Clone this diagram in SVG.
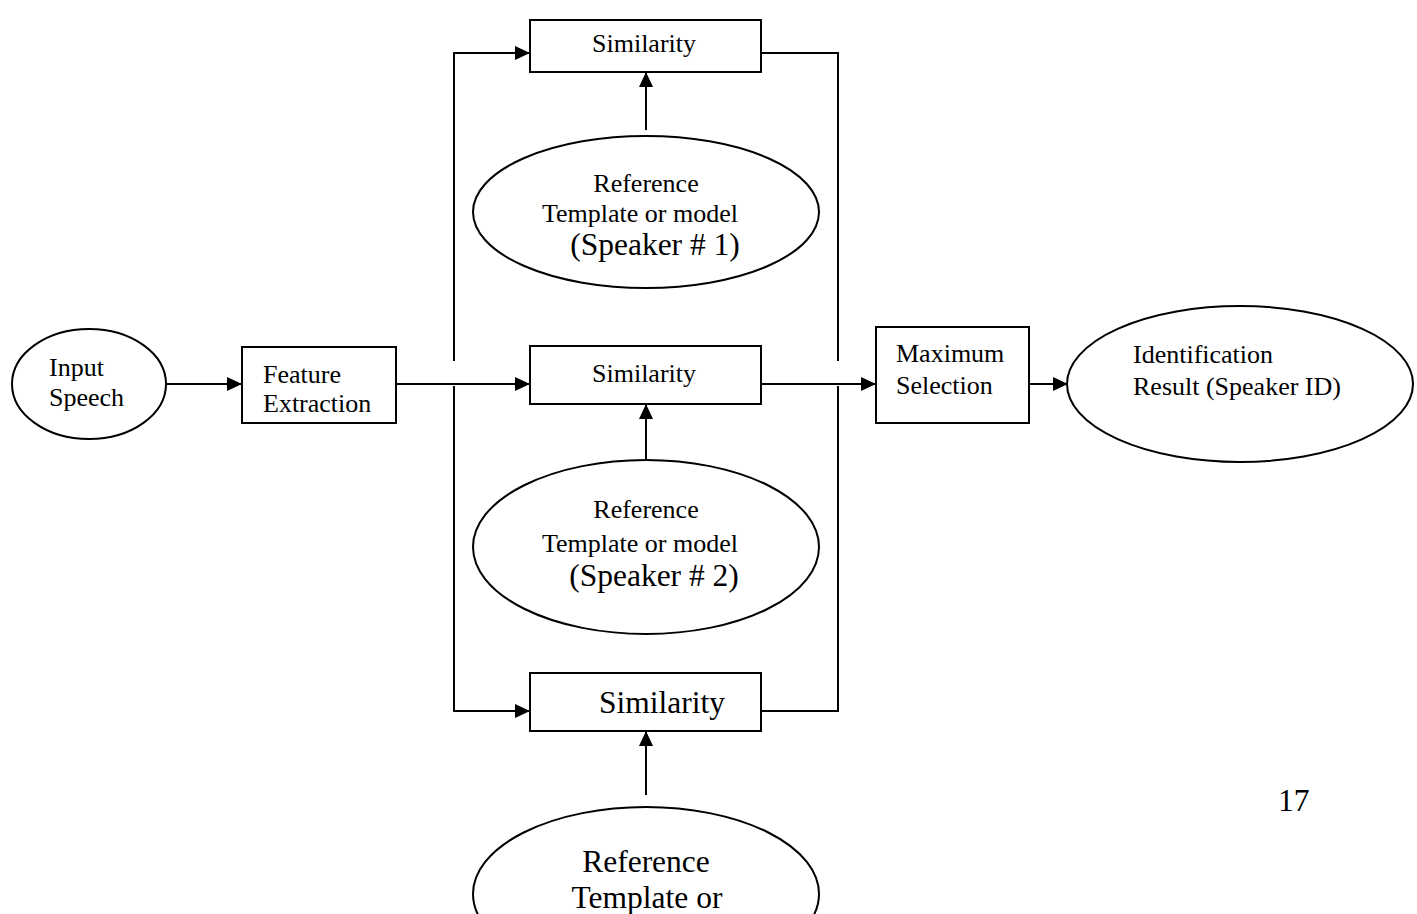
<svg xmlns="http://www.w3.org/2000/svg" width="1417" height="914" viewBox="0 0 1417 914">
<defs>
<style>
.s{fill:#fff;stroke:#000;stroke-width:2}
.c{fill:none;stroke:#000;stroke-width:2}
text{font-family:"Liberation Serif","Times New Roman",serif;fill:#000;font-size:26px}
.m{text-anchor:middle}
.L{font-size:31.5px}
</style>
<marker id="ah" markerUnits="userSpaceOnUse" markerWidth="16" markerHeight="14" refX="15" refY="7" orient="auto">
<path d="M0,0 L15,7 L0,14 z" fill="#000"/>
</marker>
</defs>
<rect width="1417" height="914" fill="#fff"/>
<g id="connectors">
<path class="c" d="M166,384 H242" marker-end="url(#ah)"/>
<path class="c" d="M396,384 H530" marker-end="url(#ah)"/>
<path class="c" d="M454,361 V53 H530" marker-end="url(#ah)"/>
<path class="c" d="M454,386 V711 H530" marker-end="url(#ah)"/>
<path class="c" d="M761,53 H838 V361"/>
<path class="c" d="M761,711 H838 V386"/>
<path class="c" d="M761,384 H876" marker-end="url(#ah)"/>
<path class="c" d="M1029,384 H1068" marker-end="url(#ah)"/>
<path class="c" d="M646,130 V72" marker-end="url(#ah)"/>
<path class="c" d="M646,462 V404" marker-end="url(#ah)"/>
<path class="c" d="M646,795 V731" marker-end="url(#ah)"/>
</g>
<g id="input">
<ellipse class="s" cx="89" cy="384" rx="77" ry="55"/>
<text x="49" y="376">Input</text>
<text x="49" y="406">Speech</text>
</g>
<g id="feature">
<rect class="s" x="242" y="347" width="154" height="76"/>
<text x="263" y="383">Feature</text>
<text x="263" y="412">Extraction</text>
</g>
<g id="sim1">
<rect class="s" x="530" y="20" width="231" height="52"/>
<text class="m" x="644" y="52">Similarity</text>
</g>
<g id="ref1">
<ellipse class="s" cx="646" cy="212" rx="173" ry="76"/>
<text class="m" x="646" y="192">Reference</text>
<text class="m" x="640" y="222">Template or model</text>
<text class="m L" x="655" y="255">(Speaker # 1)</text>
</g>
<g id="sim2">
<rect class="s" x="530" y="346" width="231" height="58"/>
<text class="m" x="644" y="382">Similarity</text>
</g>
<g id="ref2">
<ellipse class="s" cx="646" cy="547" rx="173" ry="87"/>
<text class="m" x="646" y="518">Reference</text>
<text class="m" x="640" y="552">Template or model</text>
<text class="m L" x="654" y="586">(Speaker # 2)</text>
</g>
<g id="sim3">
<rect class="s" x="530" y="673" width="231" height="58"/>
<text class="m L" x="662" y="713">Similarity</text>
</g>
<g id="ref3">
<ellipse class="s" cx="646" cy="894" rx="173" ry="87"/>
<text class="m L" x="646" y="872">Reference</text>
<text class="m L" x="647" y="908">Template or</text>
</g>
<g id="maxsel">
<rect class="s" x="876" y="327" width="153" height="96"/>
<text x="896" y="362">Maximum</text>
<text x="896" y="394">Selection</text>
</g>
<g id="result">
<ellipse class="s" cx="1240" cy="384" rx="173" ry="78"/>
<text x="1133" y="363">Identification</text>
<text x="1133" y="395">Result (Speaker ID)</text>
</g>
<text class="L" x="1278" y="811">17</text>
</svg>
